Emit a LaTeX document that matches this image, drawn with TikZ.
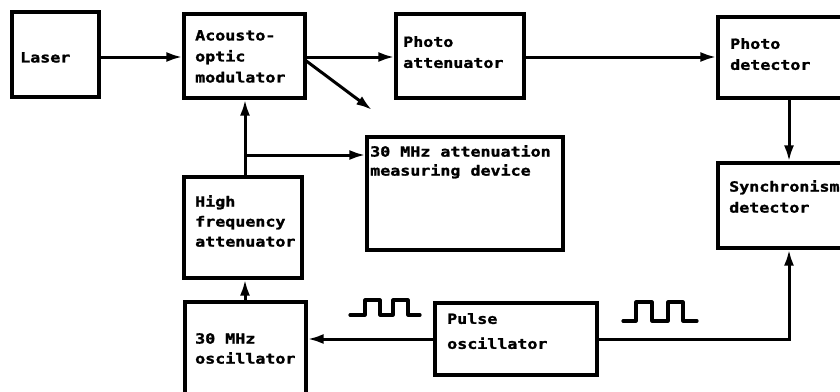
\documentclass[tikz,border=0pt]{standalone}
\usepackage{fontspec}
\newfontfamily\dotfont[FakeStretch=1.19,FakeBold=1.6]{DejaVu Sans Mono}
\usetikzlibrary{arrows.meta}
\begin{document}
\begin{tikzpicture}[x=1pt,y=-1pt,
  box/.style={draw, line width=3.2pt, inner sep=0pt, rectangle},
  lbl/.style={anchor=north west, inner sep=0pt, align=left, font=\dotfont\bfseries\fontsize{14}{21}\selectfont},
  arr/.style={line width=3pt, -{Latex[length=16pt,width=10pt]}},
  pulsesig/.style={line width=3.2pt, line join=round, line cap=round}]
\useasboundingbox (0,0) rectangle (840,391);
\clip (0,0) rectangle (840,391);

% boxes
\node[box, minimum width=87pt,  minimum height=85pt]  (laser) at (55.5,54.5) {};
\node[box, minimum width=121pt, minimum height=84pt]  (aom)   at (244.5,56) {};
\node[box, minimum width=128pt, minimum height=84pt]  (patt)  at (460,56) {};
\node[box, minimum width=132pt, minimum height=81pt]  (pdet)  at (784,57.5) {};
\node[box, minimum width=132pt, minimum height=85pt]  (sync)  at (784,205.5) {};
\node[box, minimum width=196pt, minimum height=113pt] (meas)  at (465,193.5) {};
\node[box, minimum width=118pt, minimum height=101pt] (hfa)   at (243,227.5) {};
\node[box, minimum width=121pt, minimum height=108pt] (osc)   at (245.5,356) {};
\node[box, minimum width=162pt, minimum height=72pt]  (pulse) at (516,339) {};

% labels
\node[lbl] (laserT) at (20,52)   {Laser};
\node[lbl] (aomT)   at (195,30)  {Acousto-\\optic\\modulator};
\node[lbl] (pattT)  at (403,36)  {Photo\\attenuator};
\node[lbl] (pdetT)  at (730,38)  {Photo\\detector};
\node[lbl, font=\dotfont\bfseries\fontsize{14}{19}\selectfont] (measT) at (370,145) {30 MHz attenuation\\measuring device};
\node[lbl] (syncT)  at (729,180) {Synchronism\\detector};
\node[lbl, font=\dotfont\bfseries\fontsize{14}{20}\selectfont] (hfaT) at (195,195) {High\\frequency\\attenuator};
\node[lbl, font=\dotfont\bfseries\fontsize{14}{20}\selectfont] (oscT) at (195,333) {30 MHz\\oscillator};
\node[lbl, font=\dotfont\bfseries\fontsize{14}{25}\selectfont] (pulseT) at (447,313) {Pulse\\oscillator};

% helper coordinates
\coordinate (rowA) at (0,57);
\coordinate (dstart) at (305,60);
\coordinate (dtip) at (372,110);
\coordinate (colL) at (245,0);
\coordinate (colR) at (789,0);
\coordinate (junc) at (245,155);

% connectors
\draw[arr] (laser.east |- rowA) -- (aom.west |- rowA);
\draw[arr] (aom.east |- rowA) -- (patt.west |- rowA);
\draw[arr] (dstart) -- (dtip);
\draw[arr] (patt.east |- rowA) -- (pdet.west |- rowA);
\draw[arr] (pdet.south -| colR) -- (sync.north -| colR);
\draw[arr] (hfa.north -| colL) -- (aom.south -| colL);
\draw[arr] (junc) -- (meas.west |- junc);
\draw[arr] (osc.north -| colL) -- (hfa.south -| colL);
\draw[arr] (pulse.west) -- (osc.east |- pulse.west);
\draw[arr] (pulse.east) -| (sync.south -| colR);

% pulse symbols
\draw[pulsesig] (350,315) -- (365,315) -- (365,300) -- (380,300) -- (380,315) -- (393,315) -- (393,300) -- (408,300) -- (408,315) -- (420,315);
\draw[pulsesig] (623,321) -- (636,321) -- (636,302) -- (652,302) -- (652,321) -- (668,321) -- (668,302) -- (683,302) -- (683,321) -- (697,321);
\end{tikzpicture}
\end{document}
